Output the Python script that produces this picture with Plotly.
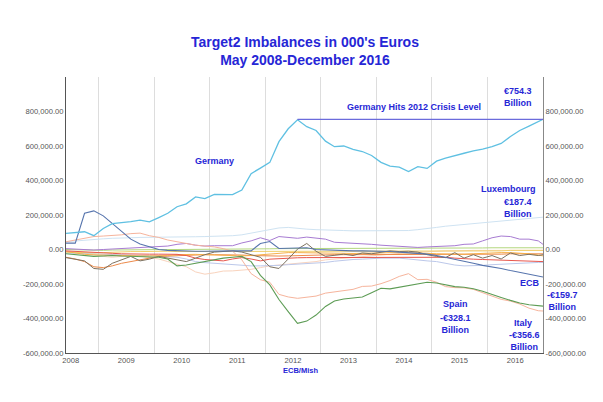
import pandas as pd
import plotly.graph_objects as go

# ---- Data (values in billions of euros; axis is in 000's of euros) ----
DATES = list(pd.date_range("2008-05-31", periods=52, freq=pd.offsets.MonthEnd(2)).strftime("%Y-%m-%d")) + ["2016-12-31"]

GERMANY = [93, 100, 103, 80, 122, 150, 155, 162, 170, 160, 185, 210, 248, 265, 305, 295, 320, 318, 318, 345,
           440, 472, 505, 625, 700, 752, 712, 690, 628, 596, 600, 580, 568, 545, 505, 483, 477, 452, 480, 470,
           512, 530, 542, 558, 572, 582, 597, 615, 655, 690, 715, 742, 754.3]
SPAIN = [-25, -30, -35, -40, -38, -35, -38, -40, -42, -40, -45, -55, -95, -90, -80, -70, -60, -50, -45, -40,
         -70, -150, -205, -290, -360, -428, -415, -380, -330, -298, -287, -280, -275, -250, -225, -228, -218, -207, -198, -190,
         -194, -205, -215, -219, -228, -242, -262, -278, -295, -310, -320, -327, -328.1]
ITALY = [45, 55, 65, 75, 78, 80, 85, 92, 95, 80, 70, 55, 45, 35, 25, 20, 15, 5, -10, -60,
         -140, -175, -190, -260, -275, -283, -278, -270, -253, -245, -238, -231, -214, -212, -198, -180, -156, -140, -175, -173,
         -190, -215, -221, -222, -231, -250, -272, -289, -299, -316, -340, -355, -356.6]
ECB = [37, 37, 210, 224, 195, 152, 110, 60, 32, 14, 0, -5, -8, -8, -10, -10, -8, -8, -8, -8,
       -8, 35, 46, 6, 8, 12, 10, 0, -3, -5, -8, -8, -8, -8, -10, -12, -15, -18, -22, -27,
       -35, -45, -56, -68, -80, -92, -100, -110, -122, -133, -145, -156, -159.7]
LUXEMBOURG = [45, 50, 55, 60, 62, 65, 65, 68, 70, 70, 70, 72, 72, 72, 74, 75, 76, 78, 80, 85,
              95, 105, 115, 125, 128, 122, 118, 115, 112, 110, 110, 108, 108, 110, 110, 112, 108, 110, 115, 120,
              128, 135, 140, 145, 148, 155, 160, 165, 170, 175, 178, 182, 187.4]
PURPLE = [5, 3, 0, -3, 0, 3, 5, 8, 10, 12, 15, 20, 30, 35, 25, 20, 22, 20, 22, 38,
          50, 68, 52, 75, 70, 65, 72, 65, 60, 42, 40, 35, 32, 30, 25, 22, 20, 15, 12, 15,
          16, 20, 22, 30, 32, 50, 68, 78, 75, 60, 60, 50, 30]
RED = [-8, -10, -14, -18, -20, -22, -25, -27, -27, -27, -27, -27, -28, -35, -50, -58, -62, -66, -55, -47,
       -55, -66, -56, -52, -50, -48, -47, -47, -47, -47, -47, -47, -47, -47, -47, -47, -47, -46, -45, -44,
       -43, -45, -50, -55, -56, -58, -60, -62, -64, -66, -68, -70, -70]
ORANGE = [-12, -20, -28, -31, -33, -35, -36, -37, -37, -37, -37, -35, -30, -27, -28, -30, -32, -35, -37, -37,
          -35, -30, -27, -22, -18, -18, -18, -18, -18, -20, -22, -23, -23, -22, -20, -18, -18, -18, -20, -22,
          -25, -27, -27, -27, -25, -22, -20, -18, -18, -20, -25, -32, -37]
DARK_ORANGE = [-45, -55, -70, -100, -105, -95, -80, -70, -60, -50, -40, -38, -35, -33, -32, -30, -30, -30, -30, -32,
               -35, -37, -38, -38, -37, -35, -33, -32, -30, -30, -30, -30, -30, -28, -27, -27, -27, -27, -27, -28,
               -30, -30, -30, -30, -30, -30, -28, -27, -25, -25, -25, -25, -25]
GOLD = [-15, -18, -20, -20, -18, -15, -15, -12, -12, -10, -10, -10, -12, -12, -12, -12, -12, -12, -12, -12,
        -12, -10, -10, -8, -8, -8, -8, -8, -8, -8, -8, -8, -8, -8, -8, -8, -8, -8, -8, -8,
        -10, -10, -10, -10, -10, -10, -10, -8, -5, -5, -5, -5, -5]
LIGHT_GREEN = [0, -2, -3, -5, -5, -3, -2, 0, 0, 0, 0, 0, 0, 0, 0, 0, 0, 0, 0, 0,
               2, 3, 4, 5, 5, 6, 6, 6, 6, 5, 5, 5, 5, 5, 5, 5, 5, 5, 6, 7,
               7, 7, 8, 8, 8, 9, 10, 10, 10, 10, 10, 10, 10]
GRAY = [-47, -55, -66, -110, -115, -80, -60, -40, -66, -56, -40, -50, -60, -70, -50, -30, -15, -10, -8, -15,
        -30, -45, -100, -110, -55, 2, 35, -10, -40, -35, -27, -35, -20, -25, -15, -8, -12, -10, -15, -30,
        -40, -47, -18, -50, -30, -50, -35, -55, -20, -35, -28, -35, -30]
LAVENDER = [-20, -22, -25, -28, -30, -32, -33, -35, -35, -35, -37, -40, -45, -55, -70, -76, -80, -85, -88, -90,
            -95, -95, -95, -92, -88, -85, -82, -80, -75, -68, -62, -58, -56, -52, -50, -50, -50, -55, -62, -66,
            -70, -82, -90, -95, -95, -92, -88, -85, -82, -78, -76, -75, -75]
PEACH = [-10, -15, -20, -30, -40, -45, -40, -35, -38, -45, -55, -70, -85, -100, -130, -143, -135, -125, -124, -120,
         -115, -105, -95, -90, -85, -80, -75, -70, -60, -55, -50, -45, -40, -35, -30, -25, -20, -18, -15, -12,
         -10, -8, -8, -5, -5, -5, -5, -5, -5, -5, -5, -5, -5]

CRISIS_LEVEL = 754.3
CRISIS_START = "2012-07-31"

YEAR_LABELS = ["2008", "2009", "2010", "2011", "2012", "2013", "2014", "2015", "2016"]
Y_TICKS = [-600000, -400000, -200000, 0, 200000, 400000, 600000, 800000]
Y_TICK_LABELS = ["-600,000.00", "-400,000.00", "-200,000.00", "0.00", "200,000.00",
                 "400,000.00", "600,000.00", "800,000.00"]

SERIES = [
    ("Luxembourg", LUXEMBOURG, "#cfe3f2", 1.0),
    ("Peach", PEACH, "#f9d3bd", 1.0),
    ("Lavender", LAVENDER, "#bcc8ea", 1.0),
    ("Gold", GOLD, "#efcf6a", 1.0),
    ("LightGreen", LIGHT_GREEN, "#b3d77e", 1.0),
    ("DarkOrange", DARK_ORANGE, "#ec8a4a", 1.0),
    ("Orange", ORANGE, "#f7b04a", 1.0),
    ("Red", RED, "#e8574e", 1.0),
    ("Gray", GRAY, "#7d7260", 1.0),
    ("Purple", PURPLE, "#a77bd2", 1.0),
    ("Italy", ITALY, "#f6b49c", 1.0),
    ("Spain", SPAIN, "#5d9c55", 1.1),
    ("ECB", ECB, "#5674ad", 1.1),
    ("Germany", GERMANY, "#5fc0e2", 1.3),
]

fig = go.Figure()
for name, vals, color, width in SERIES:
    assert len(vals) == len(DATES), name
    fig.add_trace(go.Scatter(x=DATES, y=[v * 1000 for v in vals], mode="lines", name=name,
                             line=dict(color=color, width=width), hoverinfo="skip"))

# Crisis level line drawn against the right-hand axis
fig.add_trace(go.Scatter(x=[CRISIS_START, DATES[-1]], y=[CRISIS_LEVEL * 1000] * 2, mode="lines",
                         yaxis="y2", line=dict(color="#6b6bdc", width=1.3), hoverinfo="skip"))

FONT = "Liberation Sans, Arial, sans-serif"
BLUE = "#2626d6"
tickfont = dict(family=FONT, size=7.6, color="#555555")

yaxis_common = dict(range=[-600000, 1000000], tickmode="array", tickvals=Y_TICKS, ticktext=Y_TICK_LABELS,
                    showgrid=False, zeroline=False, ticks="", tickfont=tickfont, showline=True, fixedrange=True)

fig.update_layout(
    width=595, height=394,
    margin=dict(l=58, r=60, t=69, b=49),
    paper_bgcolor="white", plot_bgcolor="white",
    showlegend=False,
    xaxis=dict(type="date", range=[DATES[0], DATES[-1]], tickmode="array",
               tickvals=[y + "-07-01" for y in YEAR_LABELS], ticktext=YEAR_LABELS,
               showgrid=False, zeroline=False, ticks="", tickfont=tickfont,
               showline=True, linecolor="#555555", linewidth=1,
               minor=dict(tickmode="array", tickvals=[y + "-01-01" for y in YEAR_LABELS[1:]],
                          showgrid=True, gridcolor="#dddddd", gridwidth=1, ticks="")),
    yaxis=dict(side="left", linecolor="#555555", linewidth=1, **yaxis_common),
    yaxis2=dict(side="right", overlaying="y", linecolor="#888888", linewidth=1, **yaxis_common),
)

annos = [
    ("<b>Target2 Imbalances in 000's Euros<br>May 2008-December 2016</b>", 0.5, 1.094, 14),
    ("<b>Germany</b>", 0.311, 0.697, 9),
    ("<b>Germany Hits 2012 Crisis Level</b>", 0.730, 0.893, 9),
    ("<b>€754.3<br>Billion</b>", 0.947, 0.928, 9),
    ("<b>Luxembourg</b>", 0.928, 0.595, 9),
    ("<b>€187.4<br>Billion</b>", 0.947, 0.524, 9),
    ("<b>ECB</b>", 0.972, 0.255, 9),
    ("<b>-€159.7<br>Billion</b>", 1.040, 0.190, 9),
    ("<b>Spain</b>", 0.817, 0.179, 9),
    ("<b>-€328.1<br>Billion</b>", 0.817, 0.105, 9),
    ("<b>Italy</b>", 0.958, 0.109, 9),
    ("<b>-€356.6<br>Billion</b>", 0.961, 0.042, 9),
    ("<b>ECB/Mish</b>", 0.4915, -0.063, 7.5),
]
for text, x, y, size in annos:
    fig.add_annotation(text=text, xref="paper", yref="paper", x=x, y=y, xanchor="center", yanchor="middle",
                       showarrow=False, font=dict(family=FONT, size=size, color=BLUE))

fig.write_html("out.html")
